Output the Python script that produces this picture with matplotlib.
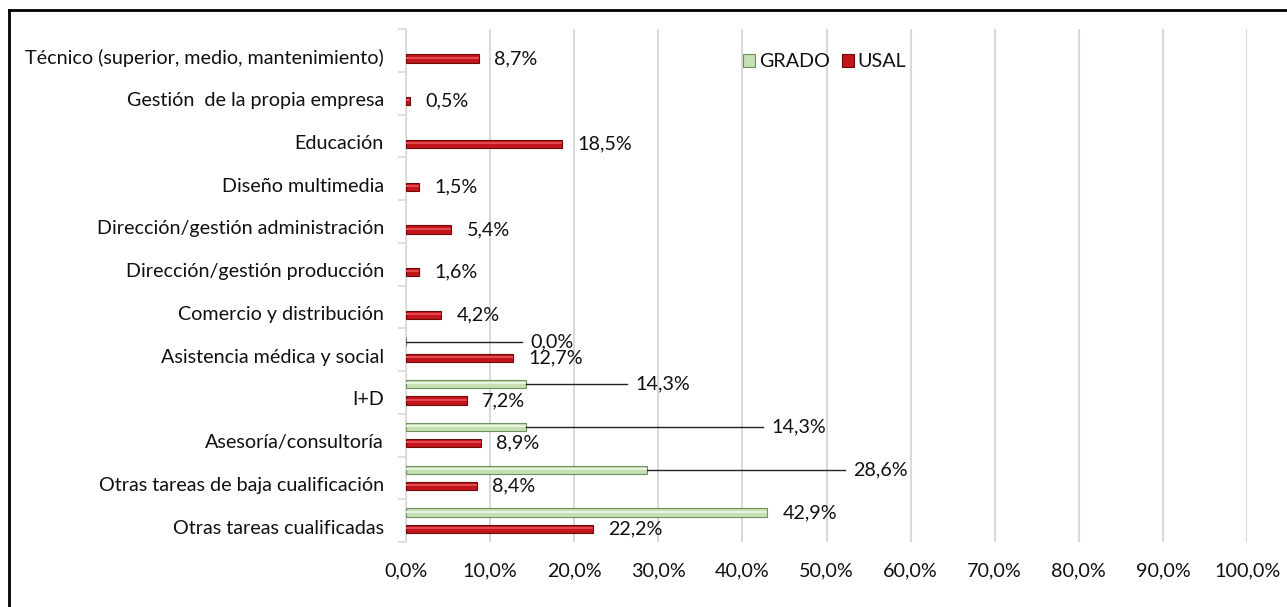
import matplotlib.pyplot as plt
import matplotlib.lines as mlines
from matplotlib.transforms import ScaledTranslation
import numpy as np

# categories bottom -> top
categories = ['Otras tareas cualificadas', 'Otras tareas de baja cualificación',
              'Asesoría/consultoría', 'I+D', 'Asistencia médica y social',
              'Comercio y distribución', 'Dirección/gestión producción',
              'Dirección/gestión administración', 'Diseño multimedia', 'Educación',
              'Gestión  de la propia empresa', 'Técnico (superior, medio, mantenimiento)']
usal = [22.2, 8.4, 8.9, 7.2, 12.7, 4.2, 1.6, 5.4, 1.5, 18.5, 0.5, 8.7]
grado = [42.9, 28.6, 14.3, 14.3, 0.0, None, None, None, None, None, None, None]
# where Excel moved the GRADO labels (x in %)
grado_label_x = [44.8, 53.2, 43.5, 27.3, 14.8]
xticks = [0, 10, 20, 30, 40, 50, 60, 70, 80, 90, 100]

plt.rcParams['font.family'] = ['Lato', 'DejaVu Sans']
txt = '#111111'
fs = 14.2

fig = plt.figure(figsize=(12.87, 6.07), dpi=100)
ax = fig.add_axes([406 / 1287, 1 - 542 / 607, 841 / 1287, 513 / 607])

y = np.arange(len(categories))
off = 0.19
h = 0.19

red = '#C3161C'
green = '#C6E0B4'
ax.barh(y - off, usal, height=h, color=red, edgecolor='#6E0A0C', linewidth=0.8,
        label='USAL', zorder=3)
g_idx = [i for i, v in enumerate(grado) if v is not None]
g_val = [grado[i] for i in g_idx]
ax.barh(y[g_idx] + off, g_val, height=h, color=green, edgecolor='#6F8F60',
        linewidth=0.8, label='GRADO', zorder=3)
# light stripe to fake Excel's rounded 3D bars
ax.barh(y - off + 0.02, usal, height=0.05, color='#E2484D', linewidth=0, zorder=3.5)
ax.barh(y[g_idx] + off + 0.02, g_val, height=0.05, color='#E6F2DD', linewidth=0, zorder=3.5)

def fmt(v):
    return f'{v:.1f}%'.replace('.', ',')

for yi, v in zip(y, usal):
    ax.annotate(fmt(v), (v, yi - off), xytext=(11, 0), textcoords='offset points',
                ha='left', va='center', fontsize=fs, color=txt, zorder=5)

for i, v, lx in zip(g_idx, g_val, grado_label_x):
    yy = y[i] + off
    ax.text(lx, yy, fmt(v), ha='left', va='center', fontsize=fs, color=txt, zorder=5)
    if lx - v > 3:
        ax.plot([v, lx - 1.0], [yy, yy], color='#222222', lw=1.0, zorder=4)

ax.set_xlim(0, 100)
ax.set_ylim(-0.5, len(categories) - 0.5)
ax.set_xticks(xticks)
ax.set_xticklabels([fmt(t) for t in xticks], fontsize=fs, color=txt)
ax.set_yticks(y)
ax.set_yticklabels(categories, fontsize=fs, color=txt)
ax.set_yticks(np.arange(len(categories) + 1) - 0.5, minor=True)
ax.tick_params(axis='y', which='major', length=0, pad=16)
ax.tick_params(axis='y', which='minor', length=6, color='#D9D9D9', width=1.2)
ax.tick_params(axis='x', length=0, pad=15)
shift = ScaledTranslation(0, -6 / 100, fig.dpi_scale_trans)
for lbl in ax.get_yticklabels():
    lbl.set_transform(lbl.get_transform() + shift)

for s in ['top', 'right', 'bottom']:
    ax.spines[s].set_visible(False)
ax.spines['left'].set_color('#D9D9D9')
ax.spines['left'].set_linewidth(1.2)
ax.xaxis.grid(True, color='#D9D9D9', linewidth=1.5, zorder=0)
ax.set_axisbelow(True)

handles, labels = ax.get_legend_handles_labels()
ax.legend(handles[::-1], labels[::-1], loc='center left', bbox_to_anchor=(0.38, 0.936),
          ncol=2, frameon=False, fontsize=fs, handlelength=0.6, handleheight=0.6,
          handletextpad=0.2, columnspacing=0.6, labelcolor=txt)

# chart frame (only top and left edges fall inside the image)
fig.add_artist(mlines.Line2D([9 / 1287, 1.0], [1 - 10 / 607, 1 - 10 / 607],
                             color='black', lw=2, transform=fig.transFigure))
fig.add_artist(mlines.Line2D([9 / 1287, 9 / 1287], [0.0, 1 - 10 / 607],
                             color='black', lw=2, transform=fig.transFigure))

fig.savefig('out.png', dpi=100)
